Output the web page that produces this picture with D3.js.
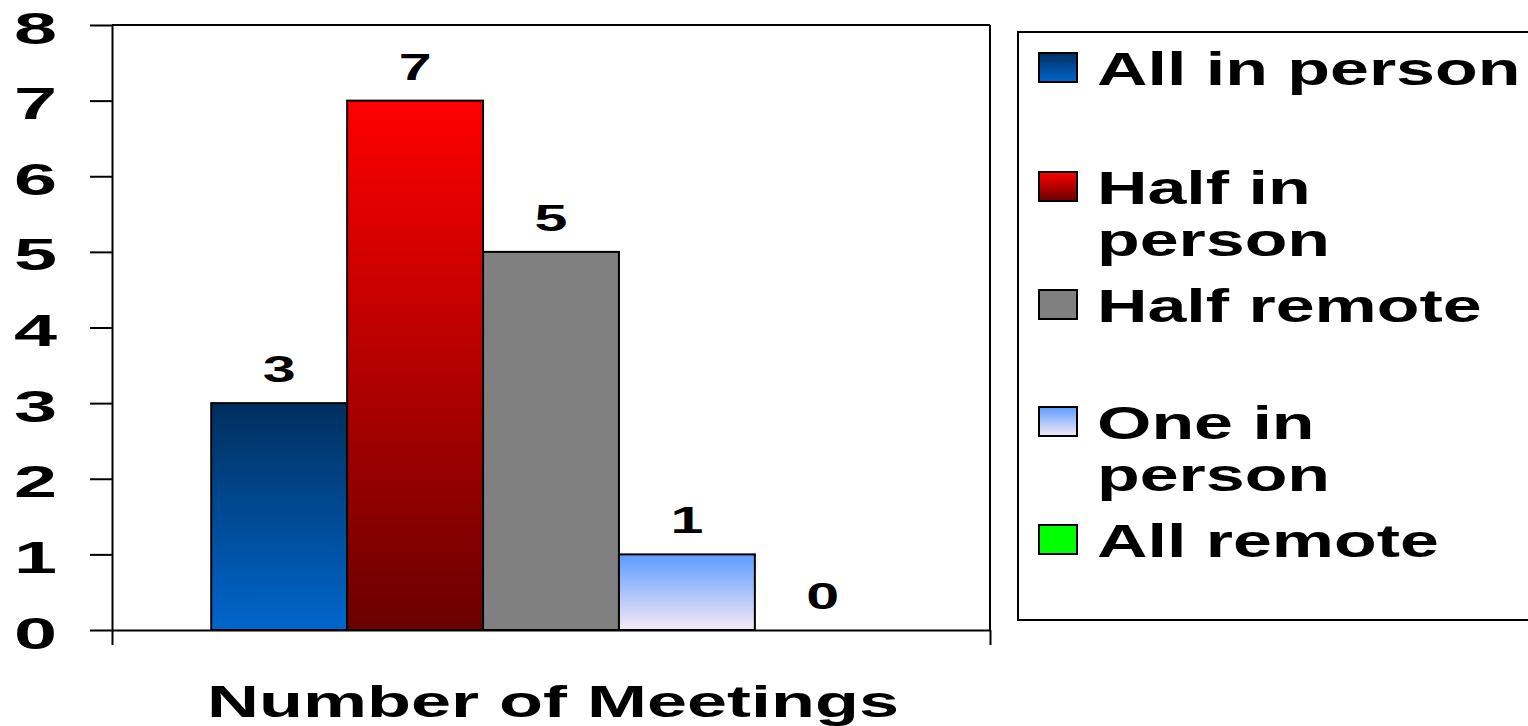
<!DOCTYPE html>
<html><head><meta charset="utf-8">
<script src="https://cdn.jsdelivr.net/npm/d3@7"></script>
<style>
html,body{margin:0;padding:0;background:#fff;}
svg{display:block;}
text{font-family:"Liberation Sans",Arial,sans-serif;font-weight:bold;fill:#000;}
</style></head>
<body>
<svg id="chart" width="1528" height="726"></svg>
<script>
const categories = ["Number of Meetings"];
const seriesNames = ["All in person","Half in person","Half remote","One in person","All remote"];
const legendLines = [["All in person"],["Half in","person"],["Half remote"],["One in","person"],["All remote"]];
const seriesValues = [3, 7, 5, 1, 0];
const yTicks = [0,1,2,3,4,5,6,7,8];

const svg = d3.select("#chart");
const defs = svg.append("defs");
const grads = [
  ["#002f5e","#0066cc"],
  ["#ff0000","#6a0000"],
  ["#808080","#808080"],
  ["#5c9cff","#f7e9f4"],
  ["#00ff00","#00ff00"]
];
grads.forEach((g,i)=>{
  const lg = defs.append("linearGradient").attr("id","g"+i).attr("x1",0).attr("y1",0).attr("x2",0).attr("y2",1);
  lg.append("stop").attr("offset","0%").attr("stop-color",g[0]);
  lg.append("stop").attr("offset","100%").attr("stop-color",g[1]);
});

const plot = {left:112, right:990, top:25, bottom:630};
const y = d3.scaleLinear().domain([0,8]).range([plot.bottom, plot.top]);
const x0 = d3.scaleBand().domain(categories).range([plot.left, plot.right]).paddingInner(0).paddingOuter(0.146);
const x1 = d3.scaleBand().domain(seriesNames).range([0, x0.bandwidth()]).padding(0);

const SX_TICK = 1.72, SX_TXT = 1.52, SX_TITLE = 1.6, SX_VAL = 1.6;

// frame: top and right lines
svg.append("line").attr("x1",plot.left).attr("x2",plot.right).attr("y1",plot.top).attr("y2",plot.top).attr("stroke","#000").attr("stroke-width",2);
svg.append("line").attr("x1",plot.right).attr("x2",plot.right).attr("y1",plot.top).attr("y2",plot.bottom).attr("stroke","#000").attr("stroke-width",2);

// bars
const g = svg.append("g").attr("transform",`translate(${x0(categories[0])},0)`);
g.selectAll("rect").data(seriesValues).join("rect")
  .attr("x",(d,i)=>x1(seriesNames[i]))
  .attr("y",d=>y(d))
  .attr("width",x1.bandwidth())
  .attr("height",d=>y(0)-y(d))
  .attr("fill",(d,i)=>`url(#g${i})`)
  .attr("stroke",d=>d>0?"#000":"none").attr("stroke-width",2);

g.selectAll("text.val").data(seriesValues).join("text").attr("class","val")
  .attr("transform",(d,i)=>`translate(${x1(seriesNames[i])+x1.bandwidth()/2},${y(d)-21}) scale(${SX_VAL},1)`)
  .attr("text-anchor","middle").attr("font-size",37).text(d=>d);

// y axis
const ya = svg.append("g").attr("transform",`translate(${plot.left},0)`)
  .call(d3.axisLeft(y).tickValues(yTicks).tickSize(22).tickSizeOuter(0).tickFormat(d3.format("d")));
ya.select(".domain").attr("stroke","#000").attr("stroke-width",2);
ya.selectAll(".tick line").attr("stroke","#000").attr("stroke-width",2);
ya.selectAll(".tick text").attr("x",null).attr("dy",null)
  .attr("transform",`translate(-55,18) scale(${SX_TICK},1)`)
  .attr("text-anchor","end").attr("font-size",45).attr("font-family","Liberation Sans, Arial, sans-serif").attr("font-weight","bold").attr("fill","#000");

// x axis
const xb = d3.scaleLinear().domain([0,1]).range([plot.left, plot.right]);
const xa = svg.append("g").attr("transform",`translate(0,${plot.bottom})`)
  .call(d3.axisBottom(xb).tickValues([0,1]).tickSize(15).tickSizeOuter(0).tickFormat(""));
xa.select(".domain").attr("stroke","#000").attr("stroke-width",2);
xa.selectAll(".tick line").attr("stroke","#000").attr("stroke-width",2);

svg.append("text")
  .attr("transform",`translate(553,717) scale(${SX_TITLE},1)`)
  .attr("text-anchor","middle").attr("font-size",45).text(categories[0]);

// legend
svg.append("rect").attr("x",1018).attr("y",32).attr("width",540).attr("height",588)
  .attr("fill","#fff").attr("stroke","#000").attr("stroke-width",2);
const legendTop = [53,172,290,407,525];
const lg = svg.append("g");
legendLines.forEach((lines,i)=>{
  lg.append("rect").attr("x",1039).attr("y",legendTop[i]).attr("width",38).attr("height",29)
    .attr("fill",`url(#g${i})`).attr("stroke","#000").attr("stroke-width",2);
  lines.forEach((t,j)=>{
    lg.append("text").attr("transform",`translate(1097,${legendTop[i]+32+j*52}) scale(${SX_TXT},1)`)
      .attr("font-size",46).text(t);
  });
});
</script>
</body></html>
